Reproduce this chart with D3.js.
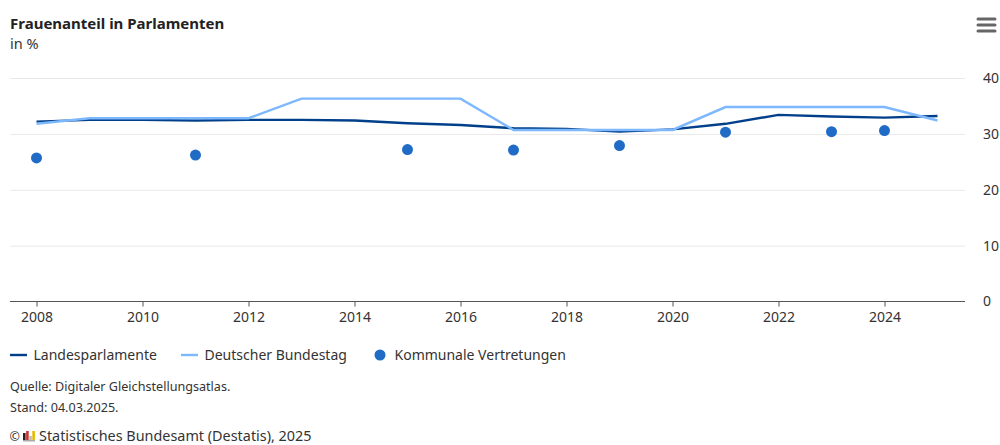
<!DOCTYPE html>
<html><head><meta charset="utf-8">
<script src="https://cdn.jsdelivr.net/npm/d3@7/dist/d3.min.js"></script>
<style>html,body{margin:0;padding:0;background:#fff}svg{display:block}text{font-family:"Noto Sans",sans-serif;}</style>
</head><body><svg id="c" width="1000" height="445"></svg>
<script>
const years=[2008,2009,2010,2011,2012,2013,2014,2015,2016,2017,2018,2019,2020,2021,2022,2023,2024,2025];
const landes=[32.2,32.5,32.5,32.4,32.5,32.5,32.4,31.9,31.6,31.0,30.9,30.4,30.8,31.8,33.4,33.1,32.9,33.2];
const bundestag=[31.8,32.8,32.8,32.8,32.8,36.3,36.3,36.3,36.3,30.7,30.7,30.7,30.7,34.8,34.8,34.8,34.8,32.4];
const kommYears=[2008,2011,2015,2017,2019,2021,2023,2024];
const kommunal=[25.7,26.2,27.2,27.1,27.9,30.3,30.4,30.6];
const xTicks=[2008,2010,2012,2014,2016,2018,2020,2022,2024];
const yTicks=[0,10,20,30,40];
const title="Frauenanteil in Parlamenten",subtitle="in %";
const seriesNames=["Landesparlamente","Deutscher Bundestag","Kommunale Vertretungen"];
const sources=["Quelle: Digitaler Gleichstellungsatlas.","Stand: 04.03.2025."];
const credit="Statistisches Bundesamt (Destatis), 2025";
const logoBars=[7,9,4,9];

const svg=d3.select("#c");
const x=d3.scaleLinear().domain([2008,2024]).range([36.5,884.5]);
const y=d3.scaleLinear().domain([0,40]).range([301.5,78]);
const dark="#003f8a",light="#7db8ff",dot="#1f6bc6",txt="#333";

svg.append("text").attr("x",10).attr("y",28.5).attr("font-size",15).attr("font-weight",700).attr("fill","#222").text(title);
svg.append("text").attr("x",10).attr("y",49).attr("font-size",14.5).attr("fill",txt).text(subtitle);

const gy=svg.append("g").attr("transform","translate(965,0)").call(d3.axisRight(y).tickValues(yTicks).tickSize(-955).tickPadding(18).tickFormat(d3.format("d")));
gy.select(".domain").remove();
gy.selectAll("line").attr("stroke","#e8e8e8").attr("stroke-width",1).filter(d=>d===0).remove();
gy.selectAll("text").attr("font-size",14).attr("fill",txt).attr("font-family","'Noto Sans',sans-serif");

const gx=svg.append("g").attr("transform","translate(0,301.5)").call(d3.axisBottom(x).tickValues(xTicks).tickSize(5).tickPadding(6).tickFormat(d3.format("d")));
gx.select(".domain").remove();
gx.selectAll("line").attr("stroke","#555");
gx.selectAll("text").attr("font-size",14).attr("fill",txt).attr("font-family","'Noto Sans',sans-serif");
svg.append("line").attr("x1",10).attr("x2",965).attr("y1",301.5).attr("y2",301.5).attr("stroke","#555").attr("stroke-width",1.2);

const line=v=>d3.line().x((d,i)=>x(years[i])).y(d=>y(d))(v);
svg.append("path").attr("d",line(landes)).attr("fill","none").attr("stroke",dark).attr("stroke-width",2.4);
svg.append("path").attr("d",line(bundestag)).attr("fill","none").attr("stroke",light).attr("stroke-width",2.4);
svg.selectAll("circle.k").data(kommunal).join("circle").attr("class","k").attr("cx",(d,i)=>x(kommYears[i])).attr("cy",d=>y(d)).attr("r",5.5).attr("fill",dot);

const ly=355;
svg.append("line").attr("x1",10).attr("x2",27).attr("y1",ly).attr("y2",ly).attr("stroke",dark).attr("stroke-width",2.4);
svg.append("text").attr("x",33.5).attr("y",ly+5).attr("font-size",14).attr("fill",txt).text(seriesNames[0]);
svg.append("line").attr("x1",181).attr("x2",198).attr("y1",ly).attr("y2",ly).attr("stroke",light).attr("stroke-width",2.4);
svg.append("text").attr("x",204.5).attr("y",ly+5).attr("font-size",14).attr("fill",txt).text(seriesNames[1]);
svg.append("circle").attr("cx",380).attr("cy",ly).attr("r",5.5).attr("fill",dot);
svg.append("text").attr("x",394.5).attr("y",ly+5).attr("font-size",14).attr("fill",txt).text(seriesNames[2]);

svg.selectAll("text.s").data(sources).join("text").attr("class","s").attr("x",10).attr("y",(d,i)=>391+i*21).attr("font-size",12.6).attr("fill",txt).text(d=>d);

svg.append("text").attr("x",9.5).attr("y",441).attr("font-size",12.5).attr("fill",txt).text("©");
svg.append("rect").attr("x",23).attr("y",440).attr("width",12).attr("height",1.5).attr("fill","#aaa");
svg.selectAll("rect.l").data(logoBars).join("rect").attr("class","l").attr("x",(d,i)=>23+i*3.1).attr("y",d=>440-d).attr("width",2.6).attr("height",d=>d)
 .attr("fill",(d,i)=>["#222","#c33","#bbb","#e8b900"][i]);
svg.append("text").attr("x",39).attr("y",441).attr("font-size",14.4).attr("fill",txt).text(credit);

[19,25,31].forEach(v=>svg.append("line").attr("x1",978).attr("x2",995).attr("y1",v).attr("y2",v).attr("stroke","#666").attr("stroke-width",3).attr("stroke-linecap","round"));
</script></body></html>
